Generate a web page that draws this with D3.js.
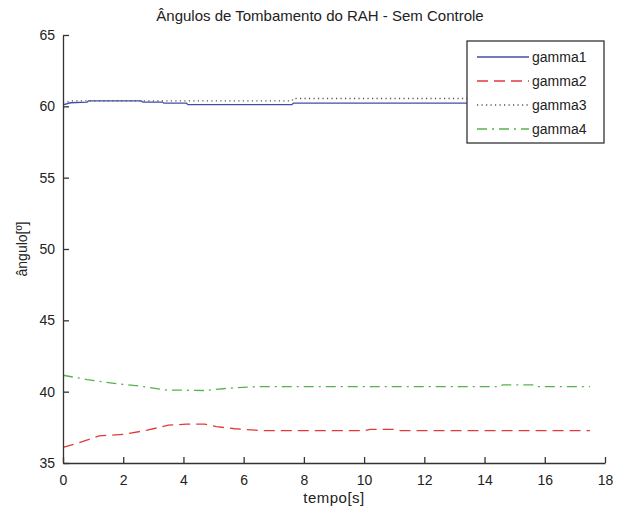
<!DOCTYPE html>
<html>
<head>
<meta charset="utf-8">
<script src="https://cdn.jsdelivr.net/npm/d3@7"></script>
<style>
  body { margin: 0; background: #fff; }
  svg text { font-family: "Liberation Sans", Arial, sans-serif; fill: #222; }
</style>
</head>
<body>
<div id="chart"></div>
<script>
// series (tempo [s], angulo [graus])
var t1 = [0, 0.25, 0.8, 0.85, 2.6, 2.65, 3.3, 3.35, 4.1, 4.15, 7.6, 7.65, 17.5];
var gamma1 = [60.1, 60.25, 60.3, 60.38, 60.38, 60.3, 60.3, 60.22, 60.22, 60.12, 60.12, 60.22, 60.22];

var t2 = [0, 0.5, 1.2, 2.0, 2.8, 3.5, 4.1, 4.7, 5.1, 5.7, 6.6, 10.0, 10.2, 11.0, 11.2, 17.5];
var gamma2 = [36.1, 36.4, 36.9, 37.0, 37.3, 37.65, 37.72, 37.72, 37.55, 37.4, 37.27, 37.27, 37.35, 37.35, 37.27, 37.27];

var t3 = [0, 0.3, 7.6, 7.65, 17.5];
var gamma3 = [60.25, 60.38, 60.38, 60.55, 60.55];

var t4 = [0, 0.8, 1.8, 2.5, 3.4, 4.7, 5.5, 6.4, 14.5, 14.6, 15.6, 15.7, 17.5];
var gamma4 = [41.15, 40.85, 40.55, 40.4, 40.12, 40.08, 40.24, 40.35, 40.35, 40.47, 40.47, 40.35, 40.35];

var seriesNames = ["gamma1", "gamma2", "gamma3", "gamma4"];
var xTicks = [0, 2, 4, 6, 8, 10, 12, 14, 16, 18];
var yTicks = [35, 40, 45, 50, 55, 60, 65];

var W = 617, H = 510;
var margin = {top: 35, right: 12, bottom: 47, left: 63};
var width = W - margin.left - margin.right,
    height = H - margin.top - margin.bottom;

var svg = d3.select("#chart").append("svg")
    .attr("width", W)
    .attr("height", H);

var g = svg.append("g")
    .attr("transform", "translate(" + margin.left + "," + margin.top + ")");

var x = d3.scaleLinear().domain([0, 18]).range([0, width]);
var y = d3.scaleLinear().domain([35, 65]).range([height, 0]);

var series = [
  {name: seriesNames[0], t: t1, v: gamma1, color: "#3f4fa6", dash: null},
  {name: seriesNames[1], t: t2, v: gamma2, color: "#e0393b", dash: "11,6"},
  {name: seriesNames[2], t: t3, v: gamma3, color: "#555", dash: "1.2,3.3"},
  {name: seriesNames[3], t: t4, v: gamma4, color: "#55b24f", dash: "10,5,2,5"}
];

var line = d3.line()
    .x(function(d) { return x(d[0]); })
    .y(function(d) { return y(d[1]); });

series.forEach(function(s) {
  g.append("path")
    .datum(s.t.map(function(tt, i) { return [tt, s.v[i]]; }))
    .attr("fill", "none")
    .attr("stroke", s.color)
    .attr("stroke-width", 1.3)
    .attr("stroke-dasharray", s.dash)
    .attr("d", line);
});

// axes (ticks inward like matlab)
var xAxis = d3.axisBottom(x).tickValues(xTicks).tickSizeInner(-6).tickSizeOuter(0).tickPadding(12);
var yAxis = d3.axisLeft(y).tickValues(yTicks).tickSizeInner(-6).tickSizeOuter(0).tickPadding(8);

var gx = g.append("g")
    .attr("transform", "translate(0," + height + ")")
    .call(xAxis);
var gy = g.append("g")
    .call(yAxis);

[gx, gy].forEach(function(a) {
  a.select(".domain").attr("stroke", "#333").attr("stroke-width", 1.3);
  a.selectAll(".tick line").attr("stroke", "#333").attr("stroke-width", 1.3);
  a.selectAll(".tick text")
    .style("font-size", "14px")
    .style("font-family", "'Liberation Sans', Arial, sans-serif")
    .attr("fill", "#222");
});

// title and labels
svg.append("text")
    .attr("x", 320)
    .attr("y", 21)
    .style("text-anchor", "middle")
    .style("font-size", "15px")
    .text("Ângulos de Tombamento do RAH - Sem Controle");

svg.append("text")
    .attr("x", margin.left + width / 2)
    .attr("y", 503)
    .style("text-anchor", "middle")
    .style("font-size", "15px")
    .style("letter-spacing", "0.5px")
    .text("tempo[s]");

svg.append("text")
    .attr("transform", "translate(27," + (margin.top + height / 2) + ") rotate(-90)")
    .style("text-anchor", "middle")
    .style("font-size", "14px")
    .text("ângulo[º]");

// legend
var legend = svg.append("g")
    .attr("transform", "translate(467,41)");

legend.append("rect")
    .attr("width", 137)
    .attr("height", 102)
    .attr("fill", "#fff")
    .attr("stroke", "#333")
    .attr("stroke-width", 1.3);

var item = legend.selectAll(".item")
    .data(series)
  .enter().append("g")
    .attr("class", "item")
    .attr("transform", function(d, i) { return "translate(0," + (16 + i * 24) + ")"; });

item.append("line")
    .attr("x1", 10)
    .attr("x2", 62)
    .attr("stroke", function(d) { return d.color; })
    .attr("stroke-width", 1.3)
    .attr("stroke-dasharray", function(d) { return d.dash; });

item.append("text")
    .attr("x", 65)
    .attr("dy", "0.35em")
    .style("font-size", "14px")
    .text(function(d) { return d.name; });
</script>
</body>
</html>
